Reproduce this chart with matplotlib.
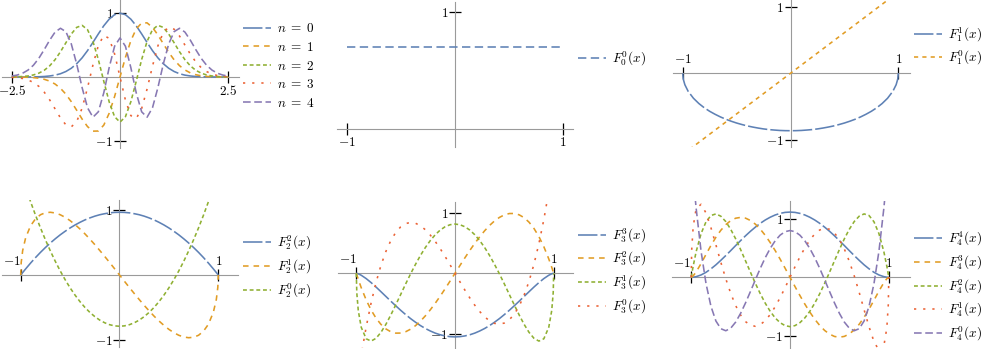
import matplotlib
matplotlib.use('Agg')
import matplotlib.pyplot as plt

plt.rcParams['mathtext.fontset'] = 'cm'
plt.rcParams['lines.scale_dashes'] = False

# ---- data ----
# panel 1: n = 0..4 on [-2.5, 2.5]
x_herm = [-2.5, -2.375, -2.25, -2.125, -2.0, -1.875, -1.75, -1.625, -1.5, -1.375,
          -1.25, -1.125, -1.0, -0.875, -0.75, -0.625, -0.5, -0.375, -0.25, -0.125,
          0.0, 0.125, 0.25, 0.375, 0.5, 0.625, 0.75, 0.875, 1.0, 1.125,
          1.25, 1.375, 1.5, 1.625, 1.75, 1.875, 2.0, 2.125, 2.25, 2.375, 2.5]
h0 = [0.000, 0.000, 0.000, 0.001, 0.002, 0.004, 0.008, 0.016, 0.029, 0.051, 0.086, 0.137, 0.208, 0.300,
      0.413, 0.541, 0.675, 0.802, 0.906, 0.976, 1.000, 0.976, 0.906, 0.802, 0.675, 0.541, 0.413, 0.300,
      0.208, 0.137, 0.086, 0.051, 0.029, 0.016, 0.008, 0.004, 0.002, 0.001, 0.000, 0.000, 0.000]
h1 = [0.000, -0.001, -0.002, -0.004, -0.009, -0.019, -0.036, -0.064, -0.110, -0.177, -0.269, -0.386,
      -0.521, -0.659, -0.777, -0.848, -0.846, -0.754, -0.568, -0.306, 0.0, 0.306, 0.568, 0.754, 0.846,
      0.848, 0.777, 0.659, 0.521, 0.386, 0.269, 0.177, 0.110, 0.064, 0.036, 0.019, 0.009, 0.004, 0.002,
      0.001, 0.000]
h2 = [0.001, 0.003, 0.008, 0.016, 0.032, 0.060, 0.105, 0.174, 0.271, 0.395, 0.536, 0.673, 0.777, 0.809,
      0.741, 0.557, 0.273, -0.066, -0.389, -0.622, -0.707, -0.622, -0.389, -0.066, 0.273, 0.557, 0.741,
      0.809, 0.777, 0.673, 0.536, 0.395, 0.271, 0.174, 0.105, 0.060, 0.032, 0.016, 0.008, 0.003, 0.001]
h3 = [-0.005, -0.011, -0.023, -0.046, -0.085, -0.146, -0.237, -0.357, -0.499, -0.641, -0.749, -0.781,
      -0.698, -0.487, -0.169, 0.189, 0.494, 0.651, 0.605, 0.362, 0.0, -0.362, -0.605, -0.651, -0.494,
      -0.189, 0.169, 0.487, 0.698, 0.781, 0.749, 0.641, 0.499, 0.357, 0.237, 0.146, 0.085, 0.046, 0.023,
      0.011, 0.005]
h4 = [0.015, 0.030, 0.059, 0.108, 0.184, 0.292, 0.429, 0.576, 0.703, 0.763, 0.710, 0.518, 0.203, -0.167,
      -0.482, -0.630, -0.545, -0.249, 0.148, 0.482, 0.612, 0.482, 0.148, -0.249, -0.545, -0.630, -0.482,
      -0.167, 0.203, 0.518, 0.710, 0.763, 0.703, 0.576, 0.429, 0.292, 0.184, 0.108, 0.059, 0.030, 0.015]

# panels 2-6: F_l^m(x) on [-1, 1]
x_leg = [-1.0, -0.995, -0.98, -0.95, -0.9, -0.85, -0.8, -0.75, -0.7, -0.65, -0.6, -0.55, -0.5, -0.45,
         -0.4, -0.35, -0.3, -0.25, -0.2, -0.15, -0.1, -0.05, 0.0, 0.05, 0.1, 0.15, 0.2, 0.25, 0.3, 0.35,
         0.4, 0.45, 0.5, 0.55, 0.6, 0.65, 0.7, 0.75, 0.8, 0.85, 0.9, 0.95, 0.98, 0.995, 1.0]
x_ends = [-1.0, 1.0]
f00 = [0.707, 0.707]
f10 = [-1.225, 1.225]
f11 = [0.0, -0.086, -0.172, -0.270, -0.377, -0.456, -0.520, -0.573, -0.618, -0.658, -0.693, -0.723,
       -0.750, -0.773, -0.794, -0.811, -0.826, -0.839, -0.849, -0.856, -0.862, -0.865, -0.866, -0.865,
       -0.862, -0.856, -0.849, -0.839, -0.826, -0.811, -0.794, -0.773, -0.750, -0.723, -0.693, -0.658,
       -0.618, -0.573, -0.520, -0.456, -0.377, -0.270, -0.172, -0.086, 0.0]
f22 = [0.0, 0.010, 0.038, 0.094, 0.184, 0.269, 0.349, 0.424, 0.494, 0.559, 0.620, 0.675, 0.726, 0.772,
       0.813, 0.850, 0.881, 0.908, 0.930, 0.946, 0.959, 0.966, 0.968, 0.966, 0.959, 0.946, 0.930, 0.908,
       0.881, 0.850, 0.813, 0.772, 0.726, 0.675, 0.620, 0.559, 0.494, 0.424, 0.349, 0.269, 0.184, 0.094,
       0.038, 0.010, 0.0]
f21 = [0.0, 0.192, 0.378, 0.574, 0.760, 0.867, 0.930, 0.961, 0.968, 0.957, 0.930, 0.890, 0.839, 0.778,
       0.710, 0.635, 0.554, 0.469, 0.379, 0.287, 0.193, 0.097, 0.0, -0.097, -0.193, -0.287, -0.379,
       -0.469, -0.554, -0.635, -0.710, -0.778, -0.839, -0.890, -0.930, -0.957, -0.968, -0.961, -0.930,
       -0.867, -0.760, -0.574, -0.378, -0.192, 0.0]
f20 = [1.581, 1.557, 1.487, 1.350, 1.131, 0.923, 0.727, 0.544, 0.372, 0.211, 0.063, -0.073, -0.198,
       -0.310, -0.411, -0.500, -0.577, -0.642, -0.696, -0.737, -0.767, -0.785, -0.791, -0.785, -0.767,
       -0.737, -0.696, -0.642, -0.577, -0.500, -0.411, -0.310, -0.198, -0.073, 0.063, 0.211, 0.372,
       0.544, 0.727, 0.923, 1.131, 1.350, 1.487, 1.557, 1.581]
f33 = [0.0, -0.001, -0.008, -0.032, -0.087, -0.153, -0.226, -0.303, -0.381, -0.459, -0.535, -0.609,
       -0.679, -0.745, -0.805, -0.860, -0.908, -0.949, -0.984, -1.011, -1.030, -1.042, -1.046, -1.042,
       -1.030, -1.011, -0.984, -0.949, -0.908, -0.860, -0.805, -0.745, -0.679, -0.609, -0.535, -0.459,
       -0.381, -0.303, -0.226, -0.153, -0.087, -0.032, -0.008, -0.001, 0.0]
f32 = [0.0, -0.025, -0.099, -0.237, -0.438, -0.604, -0.738, -0.841, -0.915, -0.962, -0.984, -0.983,
       -0.961, -0.919, -0.861, -0.787, -0.699, -0.600, -0.492, -0.376, -0.254, -0.128, 0.0, 0.128,
       0.254, 0.376, 0.492, 0.600, 0.699, 0.787, 0.861, 0.919, 0.961, 0.983, 0.984, 0.962, 0.915,
       0.841, 0.738, 0.604, 0.438, 0.237, 0.099, 0.025, 0.0]
f31 = [0.0, -0.320, -0.613, -0.888, -1.077, -1.115, -1.069, -0.971, -0.839, -0.685, -0.518, -0.347,
       -0.175, -0.009, 0.148, 0.294, 0.425, 0.539, 0.635, 0.711, 0.766, 0.799, 0.810, 0.799, 0.766,
       0.711, 0.635, 0.539, 0.425, 0.294, 0.148, -0.009, -0.175, -0.347, -0.518, -0.685, -0.839,
       -0.971, -1.069, -1.115, -1.077, -0.888, -0.613, -0.320, 0.0]
f30 = [-1.871, -1.815, -1.652, -1.344, -0.884, -0.487, -0.150, 0.132, 0.360, 0.540, 0.673, 0.765,
       0.818, 0.837, 0.823, 0.782, 0.716, 0.628, 0.524, 0.405, 0.276, 0.140, 0.0, -0.140, -0.276,
       -0.405, -0.524, -0.628, -0.716, -0.782, -0.823, -0.837, -0.818, -0.765, -0.673, -0.540, -0.360,
       -0.132, 0.150, 0.487, 0.884, 1.344, 1.652, 1.815, 1.871]
f44 = [0.0, 0.000, 0.002, 0.011, 0.040, 0.085, 0.144, 0.212, 0.289, 0.370, 0.454, 0.540, 0.624, 0.706,
       0.783, 0.854, 0.919, 0.975, 1.022, 1.060, 1.087, 1.104, 1.109, 1.104, 1.087, 1.060, 1.022, 0.975,
       0.919, 0.854, 0.783, 0.706, 0.624, 0.540, 0.454, 0.370, 0.289, 0.212, 0.144, 0.085, 0.040, 0.011,
       0.002, 0.000, 0.0]
f43 = [0.0, 0.003, 0.024, 0.091, 0.234, 0.390, 0.542, 0.681, 0.800, 0.895, 0.964, 1.005, 1.019, 1.006,
       0.966, 0.903, 0.817, 0.712, 0.590, 0.455, 0.309, 0.156, 0.0, -0.156, -0.309, -0.455, -0.590,
       -0.712, -0.817, -0.903, -0.966, -1.006, -1.019, -1.005, -0.964, -0.895, -0.800, -0.681, -0.542,
       -0.390, -0.234, -0.091, -0.024, -0.003, 0.0]
f42 = [0.0, 0.050, 0.190, 0.435, 0.744, 0.944, 1.051, 1.078, 1.039, 0.948, 0.816, 0.654, 0.472, 0.279,
       0.085, -0.105, -0.282, -0.442, -0.580, -0.691, -0.772, -0.822, -0.839, -0.822, -0.772, -0.691,
       -0.580, -0.442, -0.282, -0.105, 0.085, 0.279, 0.472, 0.654, 0.816, 0.948, 1.039, 1.078, 1.051,
       0.944, 0.744, 0.435, 0.190, 0.050, 0.0]
f41 = [0.0, 0.463, 0.861, 1.167, 1.242, 1.093, 0.842, 0.552, 0.255, -0.025, -0.273, -0.481, -0.642,
       -0.754, -0.817, -0.833, -0.804, -0.736, -0.632, -0.500, -0.346, -0.177, 0.0, 0.177, 0.346, 0.500,
       0.632, 0.736, 0.804, 0.833, 0.817, 0.754, 0.642, 0.481, 0.273, 0.025, -0.255, -0.552, -0.842,
       -1.093, -1.242, -1.167, -0.861, -0.463, 0.0]
f40 = [2.121, 2.016, 1.716, 1.175, 0.441, -0.107, -0.494, -0.743, -0.874, -0.909, -0.865, -0.762,
       -0.613, -0.435, -0.240, -0.040, 0.155, 0.335, 0.492, 0.621, 0.717, 0.776, 0.795, 0.776, 0.717,
       0.621, 0.492, 0.335, 0.155, -0.040, -0.240, -0.435, -0.613, -0.762, -0.865, -0.909, -0.874,
       -0.743, -0.494, -0.107, 0.441, 1.175, 1.716, 2.016, 2.121]

herm_labels = [r'$n \;=\; 0$', r'$n \;=\; 1$', r'$n \;=\; 2$', r'$n \;=\; 3$', r'$n \;=\; 4$']

# ---- styles ----
BLUE, ORANGE, GREEN, RED, PURPLE = '#5E81B5', '#E19C24', '#8FB032', '#EB6235', '#8778B3'
LONG = (0, (14, 2.2))
MED = (0, (4, 3.6))
SHORT = (0, (2.8, 2.0))
DOT = (0, (1.6, 5.0))
DASH = (0, (5.5, 2.6))
LW = 1.15
AXIS_GRAY = '#9a9a9a'
FS = 9.5

W, H = 981, 349
fig = plt.figure(figsize=(W / 100, H / 100), dpi=100)


def make_axes(ox, oy, ux, uy, xlim, ylim):
    # place axes so that data origin / units land at the given pixel spots
    left = (ox + xlim[0] * ux) / W
    width = (xlim[1] - xlim[0]) * ux / W
    top = oy - ylim[1] * uy
    bottom = oy - ylim[0] * uy
    ax = fig.add_axes([left, 1 - bottom / H, width, (bottom - top) / H])
    ax.set_xlim(xlim)
    ax.set_ylim(ylim)
    ax.patch.set_visible(False)
    return ax


def style_axes(ax, xticks, xlabels, yticks, ylabels, xtop=False, shift_left=False):
    for s in ax.spines.values():
        s.set_visible(False)
    xs = 'top' if xtop else 'bottom'
    for s in (xs, 'left'):
        ax.spines[s].set_visible(True)
        ax.spines[s].set_position(('data', 0))
        ax.spines[s].set_color(AXIS_GRAY)
        ax.spines[s].set_linewidth(0.8)
    ax.xaxis.set_ticks_position(xs)
    ax.yaxis.set_ticks_position('left')
    ax.set_xticks(xticks, labels=xlabels)
    ax.set_yticks(yticks, labels=ylabels)
    ax.tick_params(direction='inout', length=8, width=0.9, color='black',
                   labelsize=FS, pad=1)
    if shift_left:
        ax.get_xticklabels()[0].set_ha('right')


def add_legend(ax, lines, labels, hx, cy):
    ax.legend(lines, labels, loc='center left', bbox_to_anchor=(hx / W, 1 - cy / H),
              bbox_transform=fig.transFigure, frameon=False, fontsize=FS,
              handlelength=2.15, handletextpad=0.45, labelspacing=0.42,
              borderpad=0, borderaxespad=0)


# panel 1
ax = make_axes(120, 77, 43.3, 63.85, (-2.73, 2.75), (-1.11, 1.21))
style_axes(ax, [-2.5, 2.5], [r'$-2.5$', r'$2.5$'], [-1, 1], [r'$-1$', r'$1$'])
lines = []
for y, c, ls in zip([h0, h1, h2, h3, h4], [BLUE, ORANGE, GREEN, RED, PURPLE],
                    [LONG, MED, SHORT, DOT, DASH]):
    lines += ax.plot(x_herm, y, color=c, linestyle=ls, lw=LW, zorder=3)
add_legend(ax, lines, herm_labels, 243, 66)

# panel 2
ax = make_axes(455, 129.3, 108, 117, (-1.095, 1.095), (-0.15, 1.09))
style_axes(ax, [-1, 1], [r'$-1$', r'$1$'], [1], [r'$1$'])
lines = ax.plot(x_ends, f00, color=BLUE, linestyle=(0, (6, 3.2)), lw=LW, zorder=3)
add_legend(ax, lines, [r'$F_0^0(x)$'], 578, 59)

# panel 3
ax = make_axes(790.5, 73.3, 107.8, 66.3, (-1.09, 1.11), (-1.107, 1.106))
style_axes(ax, [-1, 1], [r'$-1$', r'$1$'], [-1, 1], [r'$-1$', r'$1$'], xtop=True)
lines = ax.plot(x_leg, f11, color=BLUE, linestyle=LONG, lw=LW, zorder=3)
lines += ax.plot(x_ends, f10, color=ORANGE, linestyle=(0, (3, 3)), lw=LW, zorder=3)
add_legend(ax, lines, [r'$F_1^1(x)$', r'$F_1^0(x)$'], 914, 46.5)

# panel 4
ax = make_axes(119.5, 275, 98.8, 64.8, (-1.19, 1.20), (-1.106, 1.16))
style_axes(ax, [-1, 1], [r'$-1$', r'$1$'], [-1, 1], [r'$-1$', r'$1$'], xtop=True, shift_left=True)
lines = []
for y, c, ls in zip([f22, f21, f20], [BLUE, ORANGE, GREEN], [LONG, MED, SHORT]):
    lines += ax.plot(x_leg, y, color=c, linestyle=ls, lw=LW, zorder=3)
add_legend(ax, lines, [r'$F_2^2(x)$', r'$F_2^1(x)$', r'$F_2^0(x)$'], 243, 267)

# panel 5
ax = make_axes(455, 273.3, 98.7, 60.8, (-1.19, 1.20), (-1.23, 1.17))
style_axes(ax, [-1, 1], [r'$-1$', r'$1$'], [-1, 1], [r'$-1$', r'$1$'], xtop=True, shift_left=True)
lines = []
for y, c, ls in zip([f33, f32, f31, f30], [BLUE, ORANGE, GREEN, RED], [LONG, MED, SHORT, DOT]):
    lines += ax.plot(x_leg, y, color=c, linestyle=ls, lw=LW, zorder=3)
add_legend(ax, lines, [r'$F_3^3(x)$', r'$F_3^2(x)$', r'$F_3^1(x)$', r'$F_3^0(x)$'], 578, 271)

# panel 6
ax = make_axes(790, 277.3, 98.8, 58.8, (-1.19, 1.21), (-1.21, 1.30))
style_axes(ax, [-1, 1], [r'$-1$', r'$1$'], [-1, 1], [r'$-1$', r'$1$'], xtop=True, shift_left=True)
lines = []
for y, c, ls in zip([f44, f43, f42, f41, f40], [BLUE, ORANGE, GREEN, RED, PURPLE],
                    [LONG, MED, SHORT, DOT, DASH]):
    lines += ax.plot(x_leg, y, color=c, linestyle=ls, lw=LW, zorder=3)
add_legend(ax, lines, [r'$F_4^4(x)$', r'$F_4^3(x)$', r'$F_4^2(x)$', r'$F_4^1(x)$', r'$F_4^0(x)$'],
           914, 286.7)

fig.savefig('out.png', dpi=100)
